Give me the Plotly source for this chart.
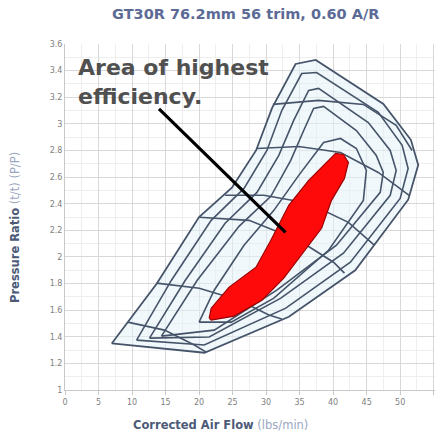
import plotly.graph_objects as go

# ---- data ----
X_TICKS = [0, 5, 10, 15, 20, 25, 30, 35, 40, 45, 50, 55]
Y_TICKS = [1, 1.2, 1.4, 1.6, 1.8, 2, 2.2, 2.4, 2.6, 2.8, 3, 3.2, 3.4, 3.6]

# outer map boundary (surge line + choke side)
OUTER_X = [6.97, 20.8, 33.4, 43.3, 51.2, 52.7, 51.6, 47.5, 37.4, 34.4, 30.9, 28.5, 24.9, 20.0, 13.7, 6.97]
OUTER_Y = [1.35, 1.28, 1.55, 1.90, 2.43, 2.69, 2.88, 3.15, 3.48, 3.45, 3.12, 2.80, 2.52, 2.30, 1.80, 1.35]

# nested efficiency islands
C1_X = [10.68, 20.77, 32.94, 42.58, 50.0, 51.19, 50.30, 46.74, 37.54, 35.31, 32.34, 30.12, 26.71, 21.81, 15.88, 10.68]
C1_Y = [1.375, 1.338, 1.615, 1.960, 2.440, 2.665, 2.838, 3.086, 3.386, 3.378, 3.100, 2.800, 2.515, 2.275, 1.825, 1.375]
C2_X = [12.61, 21.51, 32.20, 41.54, 48.52, 49.41, 48.52, 45.25, 37.83, 36.35, 34.12, 31.90, 28.64, 23.89, 17.95, 12.61]
C2_Y = [1.390, 1.398, 1.690, 2.028, 2.463, 2.650, 2.800, 3.010, 3.266, 3.251, 3.026, 2.763, 2.485, 2.253, 1.825, 1.390]
C3_X = [14.39, 22.26, 31.60, 40.50, 47.03, 47.48, 46.44, 43.47, 38.58, 37.09, 35.61, 33.68, 30.71, 25.96, 19.73, 14.39]
C3_Y = [1.405, 1.450, 1.750, 2.088, 2.485, 2.635, 2.763, 2.950, 3.131, 3.116, 2.950, 2.725, 2.455, 2.230, 1.825, 1.405]
C4_X = [20.0, 24.8, 31.16, 39.32, 44.51, 44.96, 43.47, 41.10, 38.58, 34.87, 31.16, 26.71, 22.26, 20.0]
C4_Y = [1.51, 1.51, 1.690, 2.050, 2.425, 2.650, 2.815, 2.890, 2.860, 2.613, 2.350, 2.088, 1.750, 1.51]

# speed lines
S1_X = [31.01, 37.83, 44.51, 49.41, 51.78]
S1_Y = [3.146, 3.176, 3.146, 2.988, 2.800]
S2_X = [28.64, 34.87, 41.10, 46.74, 51.34]
S2_Y = [2.815, 2.830, 2.785, 2.635, 2.463]
S3_X = [23.89, 29.67, 36.35, 42.28, 46.14]
S3_Y = [2.463, 2.463, 2.403, 2.260, 2.088]
S4_X = [20.03, 27.45, 34.87, 40.06, 41.69]
S4_Y = [2.298, 2.275, 2.125, 1.960, 1.878]
S5_X = [13.65, 20.03, 25.96, 30.42, 32.34]
S5_Y = [1.803, 1.765, 1.675, 1.563, 1.533]
S6_X = [9.35, 14.84, 19.29, 21.07]
S6_Y = [1.510, 1.450, 1.338, 1.285]

# area of highest efficiency
RED_X = [21.51, 21.81, 24.48, 28.49, 30.71, 33.38, 36.35, 38.87, 40.36, 41.54, 42.28, 41.69, 39.76,
         38.28, 35.61, 32.64, 29.38, 25.22, 21.81, 21.51]
RED_Y = [1.540, 1.615, 1.773, 1.923, 2.125, 2.388, 2.575, 2.703, 2.778, 2.770, 2.710, 2.590, 2.425,
         2.215, 2.035, 1.840, 1.675, 1.555, 1.525, 1.540]

ARROW_TAIL = (13.8, 3.123)
ARROW_HEAD = (32.9, 2.185)

TITLE = "GT30R 76.2mm 56 trim, 0.60 A/R"
NOTE = "Area of highest<br>efficiency."

LINE_COL = "#46546a"
FONT = "DejaVu Sans, Verdana, sans-serif"

# plot-area geometry in pixels (used only to place the free texts)
PL, PT, PW, PH = 65, 44, 370, 346


def px_to_paper(px, py):
    return (px - PL) / PW, (PT + PH - py) / PH


fig = go.Figure()

fig.add_trace(go.Scatter(x=OUTER_X, y=OUTER_Y, mode="lines", fill="toself",
                         fillcolor="rgba(228,242,250,0.55)",
                         line=dict(color=LINE_COL, width=1.8), hoverinfo="skip"))
for cx, cy in [(C1_X, C1_Y), (C2_X, C2_Y), (C3_X, C3_Y), (C4_X, C4_Y)]:
    fig.add_trace(go.Scatter(x=cx, y=cy, mode="lines",
                             line=dict(color=LINE_COL, width=1.6), hoverinfo="skip"))
for sx, sy in [(S1_X, S1_Y), (S2_X, S2_Y), (S3_X, S3_Y), (S4_X, S4_Y), (S5_X, S5_Y), (S6_X, S6_Y)]:
    fig.add_trace(go.Scatter(x=sx, y=sy, mode="lines",
                             line=dict(color=LINE_COL, width=1.6), hoverinfo="skip"))

fig.add_trace(go.Scatter(x=RED_X, y=RED_Y, mode="lines", fill="toself",
                         fillcolor="#ff0a0a", line=dict(color="#9b0000", width=1.2),
                         hoverinfo="skip"))

fig.add_annotation(x=ARROW_HEAD[0], y=ARROW_HEAD[1], ax=ARROW_TAIL[0], ay=ARROW_TAIL[1],
                   xref="x", yref="y", axref="x", ayref="y", text="", showarrow=True,
                   arrowhead=0, arrowwidth=3.2, arrowcolor="#000000", standoff=0, startstandoff=0)

nx, ny = px_to_paper(76, 53)
fig.add_annotation(x=nx, y=ny, xref="paper", yref="paper", xanchor="left", yanchor="top",
                   text="<b>" + NOTE + "</b>", showarrow=False, align="left",
                   font=dict(family=FONT, size=22, color="#505050"))

tx, ty = px_to_paper(245, 14)
fig.add_annotation(x=tx, y=ty, xref="paper", yref="paper", yanchor="middle",
                   text="<b>" + TITLE + "</b>", showarrow=False,
                   font=dict(family=FONT, size=14.5, color="#5c6b96"))

ax_x, ax_y = px_to_paper(220, 425)
fig.add_annotation(x=ax_x, y=ax_y, xref="paper", yref="paper", yanchor="middle",
                   text="<b>Corrected Air Flow</b> <span style='color:#9aa6c0'>(lbs/min)</span>",
                   showarrow=False,
                   font=dict(family=FONT, size=11.5, color="#4c5a78"))

ay_x, ay_y = px_to_paper(15, 228)
fig.add_annotation(x=ay_x, y=ay_y, xref="paper", yref="paper",
                   xanchor="center", yanchor="middle", textangle=-90,
                   text="<b>Pressure Ratio</b> <span style='color:#9aa6c0'>(t/t) (P/P)</span>",
                   showarrow=False,
                   font=dict(family=FONT, size=11.5, color="#4c5a78"))

fig.update_layout(
    width=435, height=434,
    margin=dict(l=PL, r=0, t=PT, b=434 - PT - PH, autoexpand=False),
    paper_bgcolor="white", plot_bgcolor="white",
    showlegend=False,
    xaxis=dict(range=[0, 55.2], tickvals=X_TICKS, showgrid=True, gridcolor="#d8d8d8",
               minor=dict(dtick=2.5, showgrid=True, gridcolor="#eeeeee"),
               showline=True, linecolor="#c8c8c8", ticks="outside", ticklen=4,
               tickcolor="#c8c8c8", zeroline=False, automargin=False,
               tickfont=dict(family=FONT, size=8, color="#808080")),
    yaxis=dict(range=[1, 3.6], tickvals=Y_TICKS, showgrid=True, gridcolor="#d8d8d8",
               minor=dict(dtick=0.1, showgrid=True, gridcolor="#eeeeee"),
               showline=True, linecolor="#c8c8c8", ticks="", zeroline=False, automargin=False,
               tickfont=dict(family=FONT, size=8, color="#808080")),
)

fig.write_html("out.html", config={"displayModeBar": False},
               post_script="document.body.style.margin='0';document.body.style.overflow='hidden';")
